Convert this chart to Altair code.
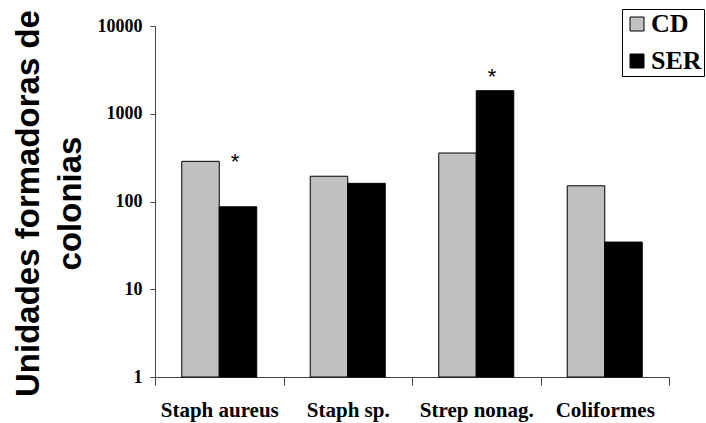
import altair as alt
import pandas as pd

categories = ["Staph aureus", "Staph sp.", "Strep nonag.", "Coliformes"]
series = ["CD", "SER"]
cd_values = [287, 194, 357, 151]
ser_values = [87, 161, 1832, 34.5]
y_ticks = [1, 10, 100, 1000, 10000]
star_categories = ["Staph aureus", "Strep nonag."]
star_levels = [237, 2207]
series_colors = ["#C0C0C0", "#000000"]

rows = []
for c, v in zip(categories, cd_values):
    rows.append({"cat": c, "serie": "CD", "val": v})
for c, v in zip(categories, ser_values):
    rows.append({"cat": c, "serie": "SER", "val": v})
df = pd.DataFrame(rows)

stars = pd.DataFrame({"cat": star_categories, "serie": ["SER"] * len(star_categories),
                      "val": star_levels})

x_enc = alt.X(
    "cat:N", sort=categories,
    scale=alt.Scale(paddingInner=0, paddingOuter=0),
    axis=alt.Axis(title=None, labelAngle=0, labelFont="Liberation Serif",
                  labelFontWeight="bold", labelFontSize=21, labelColor="black",
                  tickBand="extent", tickSize=8, labelPadding=14,
                  domainColor="#444", tickColor="#444"),
)
xoff = alt.XOffset("serie:N", sort=series, scale=alt.Scale(paddingOuter=0.713, paddingInner=0))
y_enc = alt.Y(
    "val:Q",
    scale=alt.Scale(type="log", domain=[1, 10000], nice=False),
    axis=alt.Axis(values=y_ticks, format="d", grid=False,
                  labelFont="Liberation Serif", labelFontWeight="bold",
                  labelFontSize=18, labelColor="black", tickSize=5, labelPadding=8,
                  domainColor="#444", tickColor="#444",
                  title=["Unidades formadoras de", "colonias"],
                  titleFont="Liberation Sans", titleFontWeight="bold",
                  titleFontSize=33, titleLineHeight=42, titleAngle=270,
                  titleBaseline="alphabetic", titleAlign="center",
                  titleX=-117, titleY=177, titleColor="black"),
)

bars = alt.Chart(df).mark_bar(stroke="black", strokeWidth=1).encode(
    x=x_enc,
    xOffset=xoff,
    y=y_enc,
    y2=alt.datum(1),
    color=alt.Color("serie:N", sort=series,
                    scale=alt.Scale(domain=series, range=series_colors),
                    legend=alt.Legend(title=None, orient="none", legendX=467, legendY=-17,
                                      strokeColor="black", fillColor="white", padding=2,
                                      symbolType="square", symbolSize=196,
                                      symbolStrokeColor="black", symbolStrokeWidth=1,
                                      labelFont="Liberation Serif", labelFontWeight="bold",
                                      labelFontSize=26, labelColor="black",
                                      labelOffset=1, rowPadding=11)),
)

star_marks = alt.Chart(stars).mark_text(
    text="*", font="Liberation Sans", fontSize=22, baseline="alphabetic",
    align="center", dx=-3, color="black"
).encode(x=alt.X("cat:N", sort=categories), xOffset=alt.XOffset("serie:N", sort=series), y="val:Q")

chart = alt.layer(bars, star_marks).properties(
    width=514, height=351,
    autosize=alt.AutoSizeParams(type="none"),
    padding={"left": 155, "top": 26, "right": 37, "bottom": 46},
    background="white",
).configure_view(stroke=None)

chart.save("out.html", embed_options={"renderer": "svg", "actions": False})
